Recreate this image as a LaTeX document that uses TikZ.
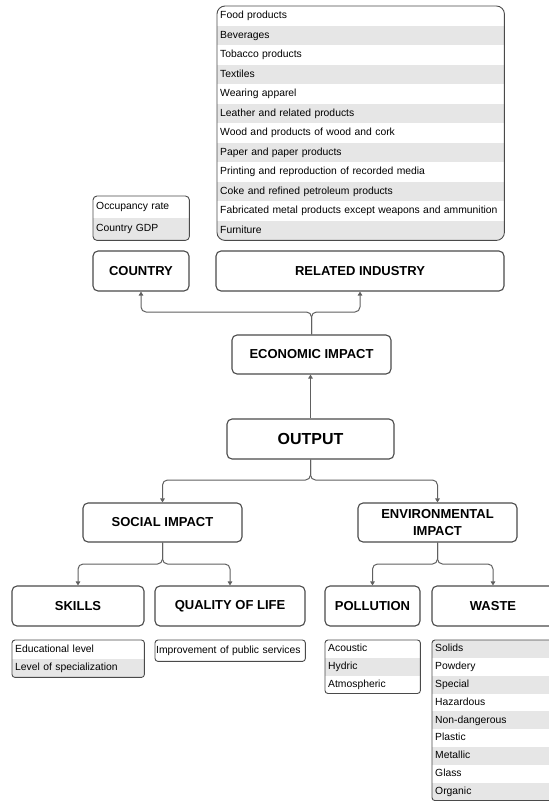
\documentclass[tikz,border=0pt]{standalone}
\usepackage{fontspec}
\setmainfont{Liberation Sans}
\usetikzlibrary{arrows.meta}
\definecolor{boxline}{HTML}{4A4A4A}
\definecolor{linkgray}{HTML}{606060}
\definecolor{rowgray}{HTML}{E6E6E6}

\begin{document}
\begin{tikzpicture}[x=1pt, y=-1pt,
    head/.style={draw=boxline, line width=1.1pt, rounded corners=5pt, fill=white, align=center, inner sep=0pt,
      font=\fontsize{13}{16.5}\selectfont\bfseries},
    listrow/.style={anchor=north west, inner xsep=3pt, inner ysep=0pt, align=left,
      text height=7.5pt, text depth=2.1pt, font=\fontsize{10.35}{12}\selectfont},
    listframe/.style={draw=boxline, line width=0.9pt},
    link/.style={draw=linkgray, line width=1pt, rounded corners=5pt, -{Triangle[width=4.5pt,length=4pt]}}]
\useasboundingbox (0,0) rectangle (549,801);
\clip (0,0) rectangle (549,801);

% heading boxes
\node[head, minimum width=96, minimum height=40] (country) at (141,271) {COUNTRY};
\node[head, minimum width=288, minimum height=40] (related) at (360,271) {RELATED INDUSTRY};
\node[head, minimum width=159, minimum height=39] (econ) at (311.5,354.5) {ECONOMIC IMPACT};
\node[head, minimum width=167, minimum height=40, font=\fontsize{16}{18}\selectfont\bfseries] (output) at (310.5,439) {OUTPUT};
\node[head, minimum width=159, minimum height=39] (social) at (162.5,522.5) {SOCIAL IMPACT};
\node[head, minimum width=159, minimum height=39] (env) at (437.5,522.5) {ENVIRONMENTAL\\IMPACT};
\node[head, minimum width=132, minimum height=40] (skills) at (78,606) {SKILLS};
\node[head, minimum width=150, minimum height=40] (quality) at (230,606) {QUALITY OF LIFE};
\node[head, minimum width=95, minimum height=40] (pollution) at (372.5,606) {POLLUTION};
\node[head, minimum width=122, minimum height=40] (waste) at (493,606) {WASTE};

% related industry list
\begin{scope}
  \clip[rounded corners=8pt] (217,6) rectangle (504,240);
  \foreach \t [count=\i] in {Food products, Beverages, Tobacco products, Textiles, Wearing apparel,
      Leather and related products, Wood and products of wood and cork, Paper and paper products,
      Printing and reproduction of recorded media, Coke and refined petroleum products,
      Fabricated metal products except weapons and ammunition, Furniture}{
    \ifodd\i \def\rowfill{white}\else\def\rowfill{rowgray}\fi
    \node[listrow, fill=\rowfill, text width=281pt, minimum height=19.5pt] (ind\i) at (217,{6+19.5*(\i-1)}) {\t};
  }
\end{scope}
\draw[listframe, rounded corners=8pt] (ind1.north west) rectangle (ind12.south east);

% country list
\begin{scope}
  \clip[rounded corners=4pt] (93,196) rectangle (189,240);
  \foreach \t [count=\i] in {Occupancy rate, Country GDP}{
    \ifodd\i \def\rowfill{white}\else\def\rowfill{rowgray}\fi
    \node[listrow, fill=\rowfill, text width=90pt, minimum height=22pt] (cty\i) at (93,{196+22*(\i-1)}) {\t};
  }
\end{scope}
\draw[listframe, rounded corners=4pt] (cty1.north west) rectangle (cty2.south east);

% skills list
\begin{scope}
  \clip[rounded corners=3pt] (12,640) rectangle (144,677);
  \foreach \t [count=\i] in {Educational level, Level of specialization}{
    \ifodd\i \def\rowfill{white}\else\def\rowfill{rowgray}\fi
    \node[listrow, fill=\rowfill, text width=126pt, minimum height=18.5pt] (skl\i) at (12,{640+18.5*(\i-1)}) {\t};
  }
\end{scope}
\draw[listframe, rounded corners=3pt] (skl1.north west) rectangle (skl2.south east);

% quality of life list
\node[listrow, fill=white, inner xsep=1pt, text width=148pt, minimum height=21pt] (qol1) at (155,640) {Improvement of public services};
\draw[listframe, rounded corners=3pt] (qol1.north west) rectangle (qol1.south east);

% pollution list
\begin{scope}
  \clip[rounded corners=3pt] (325,640) rectangle (420,693.1);
  \foreach \t [count=\i] in {Acoustic, Hydric, Atmospheric}{
    \ifodd\i \def\rowfill{white}\else\def\rowfill{rowgray}\fi
    \node[listrow, fill=\rowfill, text width=89pt, minimum height=17.7pt] (pol\i) at (325,{640+17.7*(\i-1)}) {\t};
  }
\end{scope}
\draw[listframe, rounded corners=3pt] (pol1.north west) rectangle (pol3.south east);

% waste list
\begin{scope}
  \clip[rounded corners=3pt] (432,640) rectangle (562,800.2);
  \foreach \t [count=\i] in {Solids, Powdery, Special, Hazardous, Non-dangerous, Plastic, Metallic, Glass, Organic}{
    \ifodd\i \def\rowfill{rowgray}\else\def\rowfill{white}\fi
    \node[listrow, fill=\rowfill, text width=124pt, minimum height=17.8pt] (wst\i) at (432,{640+17.8*(\i-1)}) {\t};
  }
\end{scope}
\draw[listframe, rounded corners=3pt] (wst1.north west) rectangle (wst9.south east);

% connectors
\coordinate (econsplit) at (311.5,312);
\draw[link] (econ.north) -- (econsplit) -| (country.south);
\draw[link] (econ.north) -- (econsplit) -| (related.south);
\draw[link] (output.north) -- (output.north |- econ.south);
\coordinate (outsplit) at (310.5,480);
\draw[link] (output.south) -- (outsplit) -| (social.north);
\draw[link] (output.south) -- (outsplit) -| (env.north);
\coordinate (socsplit) at (162.5,564);
\draw[link] (social.south) -- (socsplit) -| (skills.north);
\draw[link] (social.south) -- (socsplit) -| (quality.north);
\coordinate (envsplit) at (437.5,564);
\draw[link] (env.south) -- (envsplit) -| (pollution.north);
\draw[link] (env.south) -- (envsplit) -| (waste.north);
\end{tikzpicture}
\end{document}
